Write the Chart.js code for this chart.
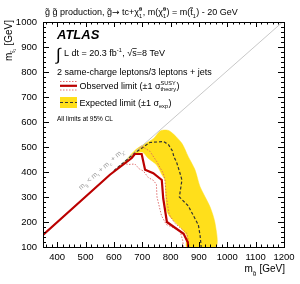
<!DOCTYPE html>
<html lang="en">
<head>
<meta charset="UTF-8">
<title>Gluino limit</title>
<script src="https://cdn.jsdelivr.net/npm/chart.js"></script>
<style>
  body { margin: 0; background: #fff; }
  #wrap { width: 300px; height: 284px; position: relative; }
</style>
</head>
<body>
<div id="wrap"><canvas id="c"></canvas></div>
<script>
// tick labels
const xTicks = [400, 500, 600, 700, 800, 900, 1000, 1100, 1200];
const yTicks = [100, 200, 300, 400, 500, 600, 700, 800, 900, 1000];

// kinematic boundary (grey)
const kinMg = [600, 1195];
const kinMst = [405, 1000];

// observed limit
const obsMg  = [350, 586, 663, 674, 698, 710, 739, 769, 774, 787, 846, 861, 862];
const obsMst = [148, 389, 456, 472, 472, 409, 395, 368, 295, 200, 153, 118, 100];

// observed +1 sigma theory
const obsUpMg  = [690, 698, 727, 751, 774, 780, 785, 795, 815, 857, 863, 864];
const obsUpMst = [495, 503, 483, 442, 395, 370, 300, 230, 195, 155, 125, 100];

// observed -1 sigma theory
const obsDnMg  = [633, 651, 674, 690, 704, 721, 740, 750, 752, 768, 785, 833, 843, 845];
const obsDnMst = [436, 430, 432, 412, 404, 378, 366, 350, 300, 225, 190, 165, 125, 100];

// expected limit
const expMg  = [600, 674, 727, 775, 792, 806, 812, 821, 833, 840, 831, 862, 898, 904, 908];
const expMst = [405, 476, 518, 522, 510, 485, 460, 440, 396, 368, 300, 265, 188, 146, 100];

// expected +-1 sigma band (closed outline)
const bandMg  = [598, 640, 680, 739, 765, 795, 839, 862, 886, 904, 939, 957, 960,
                 857, 857, 833, 798, 786, 782, 780, 769, 751, 721, 700, 670, 640, 598];
const bandMst = [400, 445, 492, 533, 565, 565, 516, 462, 409, 341, 261, 194, 100,
                 100, 146, 180, 220, 247, 320, 368, 390, 428, 455, 480, 470, 440, 400];

const FONT = '"Liberation Sans", Arial, sans-serif';

function pts(xs, ys) {
    return xs.map((x, i) => ({ x: x, y: ys[i] }));
}

// draws text with stacked super/subscripts; parts: string or [sup, sub]
function rich(ctx, x, y, parts, size, draw) {
    let cx = x;
    const small = size * 0.62;
    for (const p of parts) {
        if (typeof p === 'string') {
            // arrow glyph comes from DejaVu
            ctx.font = size + 'px ' + (p === '\u2192' ? '"DejaVu Sans"' : FONT);
            if (draw) ctx.fillText(p, cx, y);
            cx += ctx.measureText(p).width;
        } else {
            ctx.font = small + 'px ' + FONT;
            let w = 0;
            if (p[0]) {
                if (draw) ctx.fillText(p[0], cx, y - size * 0.42);
                w = Math.max(w, ctx.measureText(p[0]).width);
            }
            if (p[1]) {
                if (draw) ctx.fillText(p[1], cx, y + size * 0.28);
                w = Math.max(w, ctx.measureText(p[1]).width);
            }
            cx += w + 0.5;
        }
    }
    return cx - x;
}

const frame = {
    id: 'frame',
    afterDatasetsDraw(chart) {
        const ctx = chart.ctx;
        const a = chart.chartArea;
        const xs = chart.scales.x, ys = chart.scales.y;
        ctx.save();
        ctx.strokeStyle = '#000';
        ctx.lineWidth = 1;
        ctx.strokeRect(Math.round(a.left) + 0.5, Math.round(a.top) + 0.5,
            Math.round(a.right - a.left), Math.round(a.bottom - a.top));
        ctx.beginPath();
        for (let v = 360; v < 1200; v += 20) {
            const px = Math.round(xs.getPixelForValue(v)) + 0.5;
            const len = v % 100 === 0 ? 5 : 2.5;
            ctx.moveTo(px, a.bottom); ctx.lineTo(px, a.bottom - len);
            ctx.moveTo(px, a.top); ctx.lineTo(px, a.top + len);
        }
        for (let v = 120; v < 1000; v += 20) {
            const py = Math.round(ys.getPixelForValue(v)) + 0.5;
            const len = v % 100 === 0 ? 6 : 3;
            ctx.moveTo(a.left, py); ctx.lineTo(a.left + len, py);
            ctx.moveTo(a.right, py); ctx.lineTo(a.right - len, py);
        }
        ctx.stroke();
        ctx.restore();
    },
    afterDraw(chart) {
        const ctx = chart.ctx;
        const a = chart.chartArea;
        ctx.save();
        ctx.fillStyle = '#000';
        ctx.textBaseline = 'alphabetic';

        // title
        rich(ctx, 45, 15, ['g\u0303 g\u0303 production, g\u0303', '\u2192', ' tc+\u03c7\u0303', ['0', '1'],
            ', m(\u03c7\u0303', ['0', '1'], ') = m(t\u0303', [null, '1'], ') - 20 GeV'], 9, true);

        // ATLAS
        ctx.font = 'italic bold 13px ' + FONT;
        ctx.fillText('ATLAS', 57, 39);

        // luminosity
        ctx.font = '17px ' + FONT;
        ctx.fillText('\u222b', 56, 60);
        let w = rich(ctx, 64, 56, ['L dt = 20.3 fb', ['-1', null], ', \u221a'], 9, true);
        let sx = 64 + w;
        ctx.font = '9px ' + FONT;
        ctx.fillText('s=8 TeV', sx, 56);
        ctx.fillRect(sx, 48, ctx.measureText('s').width, 0.7);

        ctx.font = '9px ' + FONT;
        ctx.fillText('2 same-charge leptons/3 leptons + jets', 57, 75);

        // legend: observed
        ctx.strokeStyle = '#e07070';
        ctx.lineWidth = 1;
        ctx.setLineDash([1.5, 1.5]);
        ctx.beginPath();
        ctx.moveTo(60, 81.5); ctx.lineTo(77, 81.5);
        ctx.moveTo(60, 90); ctx.lineTo(77, 90);
        ctx.stroke();
        ctx.setLineDash([]);
        ctx.strokeStyle = '#bb0000';
        ctx.lineWidth = 2.2;
        ctx.beginPath();
        ctx.moveTo(60, 85.8); ctx.lineTo(77, 85.8);
        ctx.stroke();
        rich(ctx, 79.5, 88.5, ['Observed limit (\u00b11 \u03c3', ['SUSY', 'theory'], ')'], 9, true);

        // legend: expected
        ctx.fillStyle = '#ffdf1b';
        ctx.fillRect(60, 97, 17, 11);
        ctx.strokeStyle = '#333';
        ctx.lineWidth = 1.2;
        ctx.setLineDash([3, 2]);
        ctx.beginPath();
        ctx.moveTo(60, 102.5); ctx.lineTo(77, 102.5);
        ctx.stroke();
        ctx.setLineDash([]);
        ctx.fillStyle = '#000';
        rich(ctx, 79.5, 105.5, ['Expected limit (\u00b11 \u03c3', [null, 'exp'], ')'], 9, true);

        ctx.font = '6.5px ' + FONT;
        ctx.fillText('All limits at 95% CL', 57, 120.5);

        // x axis title, right aligned
        const xt = ['m', [null, 'g\u0303'], ' [GeV]'];
        w = rich(ctx, 0, 0, xt, 10, false);
        rich(ctx, a.right + 1 - w, 272, xt, 10, true);

        // y axis title, rotated, right aligned at top
        const yt = ['m', [null, 't\u0303\u2081'], ' [GeV]'];
        w = rich(ctx, 0, 0, yt, 10, false);
        ctx.save();
        ctx.translate(12, 20);
        ctx.rotate(-Math.PI / 2);
        rich(ctx, -w, 0, yt, 10, true);
        ctx.restore();

        // kinematic label along the diagonal
        ctx.save();
        ctx.fillStyle = '#999';
        ctx.translate(81, 190);
        ctx.rotate(-Math.atan(0.879));
        rich(ctx, 0, 0, ['m', [null, 'g\u0303'], ' < m', [null, 't'], ' + m', [null, 'c'],
            ' + m', [null, '\u03c7\u0303']], 7, true);
        ctx.restore();

        ctx.restore();
    }
};

const ctx = document.getElementById('c').getContext('2d');
new Chart(ctx, {
    type: 'scatter',
    data: {
        datasets: [
            {
                data: pts(bandMg, bandMst),
                showLine: true,
                fill: 'shape',
                backgroundColor: '#ffdf1b',
                borderColor: '#ffdf1b',
                borderWidth: 0.5,
                tension: 0.25,
                pointRadius: 0,
                order: 6
            },
            {
                data: pts(kinMg, kinMst),
                showLine: true,
                borderColor: '#c8c8c8',
                borderWidth: 1,
                pointRadius: 0,
                order: 5
            },
            {
                data: pts(expMg, expMst),
                showLine: true,
                borderColor: '#333',
                borderWidth: 1.2,
                borderDash: [3, 2],
                pointRadius: 0,
                order: 4
            },
            {
                data: pts(obsUpMg, obsUpMst),
                showLine: true,
                borderColor: '#e0705a',
                borderWidth: 1,
                borderDash: [1.5, 1.5],
                pointRadius: 0,
                order: 3
            },
            {
                data: pts(obsDnMg, obsDnMst),
                showLine: true,
                borderColor: '#e07070',
                borderWidth: 1,
                borderDash: [1.5, 1.5],
                pointRadius: 0,
                order: 2
            },
            {
                data: pts(obsMg, obsMst),
                showLine: true,
                borderColor: '#bb0000',
                borderWidth: 2.2,
                pointRadius: 0,
                order: 1
            }
        ]
    },
    options: {
        responsive: true,
        maintainAspectRatio: false,
        animation: false,
        layout: { padding: { left: 0, top: 22, right: 16, bottom: 0 } },
        plugins: { legend: { display: false }, tooltip: { enabled: false } },
        scales: {
            x: {
                type: 'linear',
                min: 350,
                max: 1200,
                afterBuildTicks: s => { s.ticks = xTicks.map(v => ({ value: v })); },
                afterFit: s => { s.height = 37; },
                grid: { display: false, drawTicks: false },
                border: { display: false },
                ticks: { color: '#000', font: { family: FONT, size: 9.5 }, padding: 5, maxRotation: 0,
                         autoSkip: false, callback: v => String(v) }
            },
            y: {
                type: 'linear',
                min: 100,
                max: 1000,
                afterBuildTicks: s => { s.ticks = yTicks.map(v => ({ value: v })); },
                afterFit: s => { s.width = 43; },
                grid: { display: false, drawTicks: false },
                border: { display: false },
                ticks: { color: '#000', font: { family: FONT, size: 9.5 }, padding: 6,
                         autoSkip: false, callback: v => String(v) }
            }
        }
    },
    plugins: [frame]
});
</script>
</body>
</html>
